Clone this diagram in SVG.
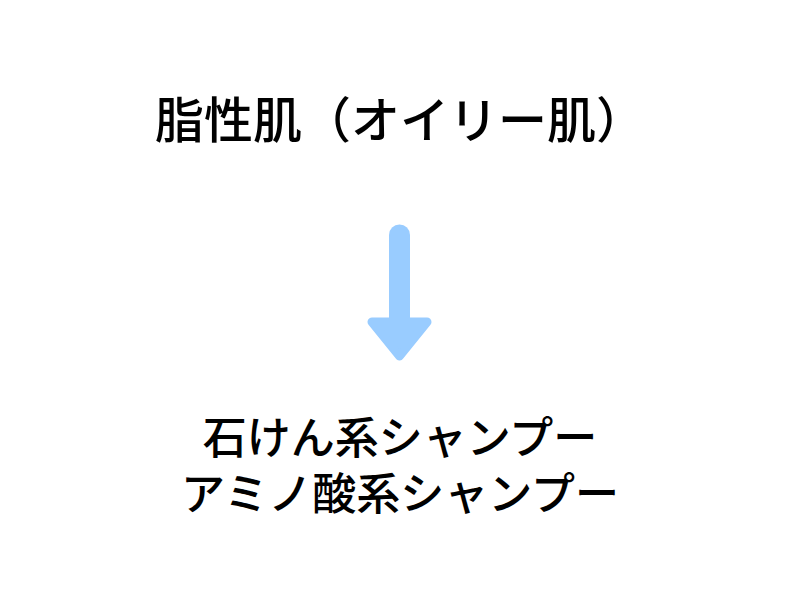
<svg xmlns="http://www.w3.org/2000/svg" width="800" height="600" viewBox="0 0 800 600">
  <style>
    .t { font-family: "Noto Sans CJK JP", "Noto Sans CJK SC", sans-serif; font-weight: 500; fill: #000; text-anchor: middle; }
    .title { font-size: 49px; }
    .body { font-size: 44px; }
    .arrow { stroke: #99CCFF; fill: #99CCFF; stroke-linecap: round; stroke-linejoin: round; }
  </style>
  <rect width="800" height="600" fill="#ffffff"/>
  <g id="node-oily-skin">
    <text class="t title" x="400" y="138">脂性肌（オイリー肌）</text>
  </g>
  <g id="connectors">
    <line class="arrow" x1="399.5" y1="235" x2="399.5" y2="322" stroke-width="21"/>
    <polygon class="arrow" points="372,322 427,322 399.5,356" stroke-width="9"/>
  </g>
  <g id="node-shampoo">
    <text class="t body"><tspan x="400" y="454">石けん系シャンプー</tspan><tspan x="400" y="510">アミノ酸系シャンプー</tspan></text>
  </g>
</svg>
